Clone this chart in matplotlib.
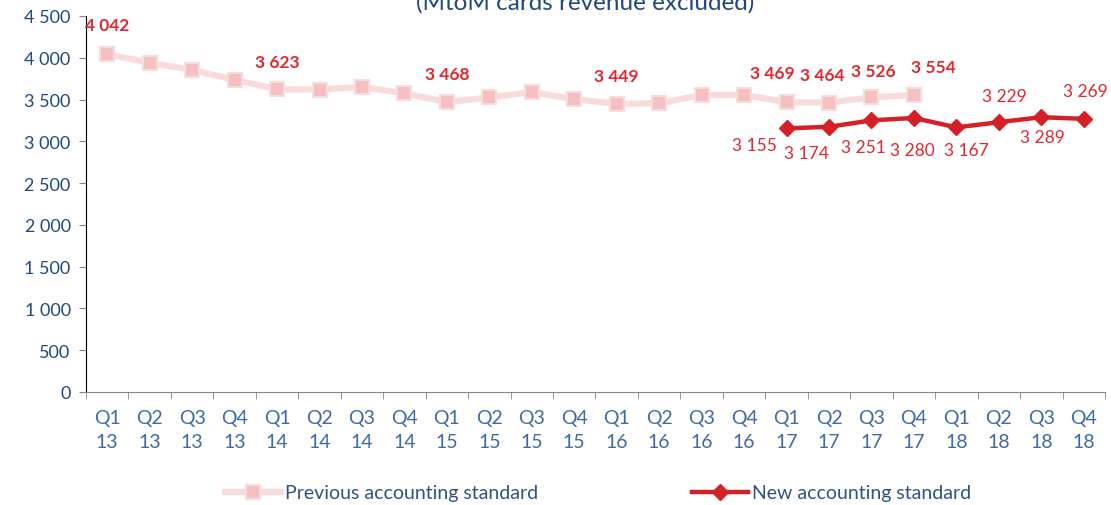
import numpy as np
import matplotlib
matplotlib.use('Agg')
from matplotlib import pyplot as plt

plt.rcParams['font.family'] = ['Lato', 'DejaVu Sans']

# quarters Q1 13 .. Q4 18
quarters = ['Q1', 'Q2', 'Q3', 'Q4'] * 6
years = [str(y) for y in range(13, 19) for _ in range(4)]
tick_labels = [q + '\n' + y for q, y in zip(quarters, years)]

# previous accounting standard, Q1 13 .. Q4 17
prev_values = [4042, 3940, 3855, 3735, 3623, 3620, 3650, 3575, 3468, 3525,
               3590, 3505, 3449, 3455, 3555, 3555, 3469, 3464, 3526, 3554]
# quarters of prev series that get a label
prev_labelled = [0, 4, 8, 12, 16, 17, 18, 19]

# new accounting standard, Q1 17 .. Q4 18
new_start = 16
new_values = [3155, 3174, 3251, 3280, 3167, 3229, 3289, 3269]

# label offsets in points (dx, dy)
prev_offsets = [(0, -21), (0, -20), (0, -20), (0, -20), (-10, -21), (-5, -20), (1, -19), (14, -20)]
new_offsets = [(-23, 12), (-16, 19), (-6, 19), (-1, 23), (7, 16), (4, -19), (1, 14), (1, -20)]

RED = '#D42026'
LABEL_RED = '#E0282E'
NAVY = '#1F497D'
XBLUE = '#3F6AA6'


def fmt(v):
    return '{:,}'.format(v).replace(',', ' ')


fig = plt.figure(figsize=(11.11, 5.06), dpi=100)
ax = fig.add_axes([86 / 1111, 1 - 393 / 506, (1105 - 86) / 1111, (393 - 17) / 506])

x_prev = np.arange(len(prev_values))
x_new = np.arange(new_start, new_start + len(new_values))

ax.plot(x_prev, prev_values, color='#FADBDC', lw=4.5, marker='s', ms=10,
        mfc='#F4C0C1', mec='#FADBDC', mew=1.5, label='Previous accounting standard', zorder=2)
ax.plot(x_new, new_values, color=RED, lw=3.2, marker='D', ms=8,
        mfc=RED, mec=RED, label='New accounting standard', zorder=3)

for i, (dx, dy) in zip(prev_labelled, prev_offsets):
    ax.annotate(fmt(prev_values[i]), (x_prev[i], prev_values[i]), xytext=(dx, -dy),
                textcoords='offset points', ha='center', va='center',
                color=LABEL_RED, fontsize=12.5, fontweight='bold', annotation_clip=False)

for i, (dx, dy) in enumerate(new_offsets):
    ax.annotate(fmt(new_values[i]), (x_new[i], new_values[i]), xytext=(dx, -dy),
                textcoords='offset points', ha='center', va='center',
                color=LABEL_RED, fontsize=12.5)

ax.set_xlim(-0.5, len(tick_labels) - 0.5)
ax.set_ylim(0, 4500)
ax.set_yticks(np.arange(0, 4501, 500))
ax.set_yticklabels([fmt(v) for v in range(0, 4501, 500)])
ax.set_xticks(np.arange(len(tick_labels)))
ax.set_xticklabels(tick_labels, linespacing=1.5)
ax.set_xticks(np.arange(-0.5, len(tick_labels), 1), minor=True)

ax.tick_params(axis='x', which='major', length=0, pad=12, labelsize=14, labelcolor=XBLUE)
ax.tick_params(axis='x', which='minor', length=5, color='#868686', direction='out')
ax.tick_params(axis='y', length=5, color='#868686', direction='out', labelsize=13,
               labelcolor=NAVY, pad=6)

for s in ['top', 'right']:
    ax.spines[s].set_visible(False)
ax.spines['left'].set_color('black')
ax.spines['bottom'].set_color('#868686')

fig.text(0.527, 0.981, '(MtoM cards revenue excluded)', ha='center', va='baseline',
         fontsize=17.5, color=NAVY)

fig.legend(loc='center', bbox_to_anchor=(0.538, 1 - 494 / 506), ncol=2, frameon=False,
           fontsize=14, handlelength=2.9, handletextpad=0.2, columnspacing=7.9,
           labelcolor='#2F5283')

fig.savefig('out.png', dpi=100)
